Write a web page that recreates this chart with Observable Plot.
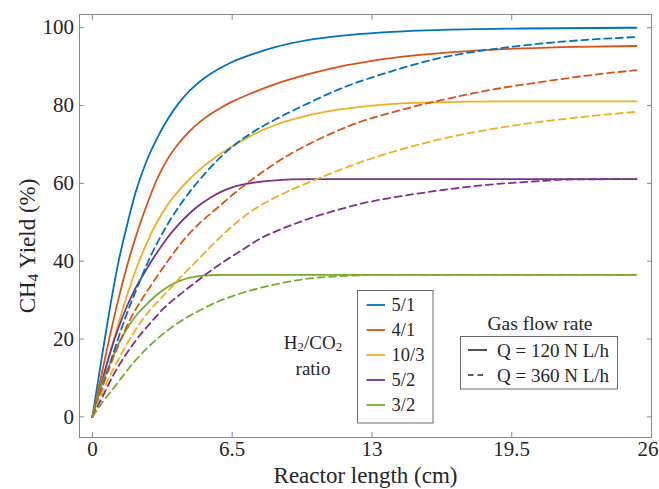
<!DOCTYPE html>
<html>
<head>
<meta charset="utf-8">
<script src="https://cdn.jsdelivr.net/npm/d3@7"></script>
<script src="https://cdn.jsdelivr.net/npm/@observablehq/plot@0.6"></script>
<style>
  html, body { margin: 0; padding: 0; background: #ffffff; }
  #chart { width: 659px; height: 489px; overflow: hidden; }
</style>
</head>
<body>
<div id="chart"></div>
<script>
// ---- categories / labels ----
const ratios = ["5/1", "4/1", "10/3", "5/2", "3/2"];
const ratioColors = ["#0072BD", "#D95319", "#EDB120", "#7E2F8E", "#77AC30"];
const flowRates = ["Q = 120 N L/h", "Q = 360 N L/h"];
const xTicks = [0, 6.5, 13, 19.5, 26];
const xTickLabels = ["0", "6.5", "13", "19.5", "26"];
const yTicks = [0, 20, 40, 60, 80, 100];
const xTitle = "Reactor length (cm)";
const yTitleParts = ["CH", "4", " Yield (%)"];
const ratioTitleParts = ["H", "2", "/CO", "2"];
const ratioTitle2 = "ratio";
const flowTitle = "Gas flow rate";

// ---- series: [reactor length (cm), CH4 yield (%)] ----
// Q = 120 N L/h (solid)
const q120_51 = [[0,0],[0.4,14],[0.8,27.5],[1.2,39.5],[1.6,49],[2,57.5],[2.5,65.5],[3,71.5],[3.5,76.5],[4,80.5],[4.5,83.7],[5,86.2],[5.5,88.2],[6,89.8],[6.5,91.2],[7.5,93.3],[8.5,95],[10,96.8],[11.5,97.9],[13.5,98.8],[16,99.4],[20,99.8],[25.3,100]];
const q120_41 = [[0,0],[0.4,10.2],[0.8,20.5],[1.2,30],[1.6,38.5],[2,46],[2.5,54],[3,61],[3.5,66.3],[4,70.2],[4.5,73.3],[5,75.8],[5.5,77.8],[6,79.5],[6.5,81],[7.5,83.4],[8.5,85.5],[10,88],[11.5,90],[13,91.5],[15,92.9],[17.5,94],[20,94.7],[22.5,95.1],[25.3,95.3]];
const q120_103 = [[0,0],[0.4,8],[0.8,16],[1.2,23.8],[1.6,31],[2,37.5],[2.5,44.3],[3,50],[3.5,54.5],[4,58],[4.5,61],[5,63.6],[5.5,65.8],[6,67.8],[6.5,69.5],[7.5,72.6],[8.5,75],[10,77.4],[11.5,79],[13,80],[15,80.7],[17.5,81],[20,81.1],[25.3,81.1]];
const q120_52 = [[0,0],[0.4,8.2],[0.8,16],[1.2,22.7],[1.6,28.3],[2,33],[2.5,37.8],[3,42.2],[3.5,46.1],[4,49.4],[4.5,52.2],[5,54.5],[5.5,56.4],[6,57.9],[6.5,59],[7.5,60.2],[8.5,60.8],[10,61.1],[25.3,61.1]];
const q120_32 = [[0,0],[0.4,7.8],[0.8,13.4],[1.2,18.6],[1.6,22.6],[2,25.8],[2.5,28.8],[3,31.4],[3.5,33.4],[4,34.8],[4.5,35.7],[5,36.2],[5.5,36.4],[6,36.5],[25.3,36.5]];
// Q = 360 N L/h (dashed)
const q360_51 = [[0,0],[0.5,8.5],[0.97,16.3],[1.5,25],[2.14,34],[2.69,41.1],[3.5,49.5],[4.24,55.7],[5.2,62.3],[6.2,68],[7.3,72.6],[8.5,76.4],[10,80.5],[11.3,83.8],[13.9,88.8],[16.3,92.4],[18.5,94.4],[20.8,95.9],[23,96.9],[25.3,97.6]];
const q360_41 = [[0,0],[0.5,8.2],[1.05,16.3],[1.8,25.5],[2.68,33.4],[3.5,40],[4.24,45.4],[4.9,49.3],[5.79,53.6],[6.5,57],[7.33,60.6],[8.3,64.4],[9.19,67.5],[10,69.9],[11.3,73.3],[12.5,75.9],[13.9,78.2],[16.3,81.5],[18.5,84],[20.8,86],[23,87.7],[25.3,89.1]];
const q360_103 = [[0,0],[0.6,8],[1.36,16.3],[2.4,25.5],[3.31,31.2],[3.68,33.4],[5.01,41],[6.2,47.5],[7.3,52.5],[8.88,57.4],[10.4,61],[11.3,63],[12.5,65.5],[13.9,68],[16.3,71.5],[18.5,73.9],[20.8,75.8],[23,77.2],[25.3,78.4]];
const q360_52 = [[0,0],[0.5,5.5],[1,11],[1.5,15.5],[2,19.5],[2.6,23.5],[3.3,27.8],[4.2,32],[5.2,36.3],[6,39.5],[7,43],[7.8,45.8],[8.5,47.6],[9.5,49.8],[10.6,51.9],[11.3,53],[12.5,54.8],[13.9,56.3],[16.3,58.3],[18.5,59.7],[20.8,60.6],[22,61],[25.3,61.1]];
const q360_32 = [[0,0],[0.5,4],[1,7.5],[2,14.5],[3,20],[4,24.2],[5,27.4],[6,30],[7,31.9],[8,33.4],[9,34.6],[10,35.5],[11,36],[12,36.3],[13.5,36.5],[25.3,36.5]];

const q120Series = [q120_51, q120_41, q120_103, q120_52, q120_32];
const q360Series = [q360_51, q360_41, q360_103, q360_52, q360_32];

// table built from the arrays above
const rows = [];
[q120Series, q360Series].forEach((group, gi) => {
  group.forEach((pts, ri) => {
    pts.forEach(([x, y]) => rows.push({x, y, ratio: ratios[ri], flow: flowRates[gi], series: ratios[ri] + "|" + flowRates[gi]}));
  });
});

const frameGray = "#8a8a8a";
const textColor = "#262626";
const serif = "'Liberation Serif', 'DejaVu Serif', serif";
const lastTick = xTicks[xTicks.length - 1];

const chart = Plot.plot({
  width: 659,
  height: 489,
  marginLeft: 79,
  marginRight: 8,
  marginTop: 14,
  marginBottom: 52,
  style: {fontFamily: serif, fontSize: "21px", color: textColor, background: "#ffffff"},
  x: {domain: [-0.6, 26]},
  y: {domain: [-5.3, 103.4]},
  color: {domain: ratios, range: ratioColors},
  marks: [
    Plot.frame({stroke: frameGray, strokeWidth: 1}),
    // ticks (inward) on all four sides
    Plot.axisX({anchor: "bottom", ticks: xTicks, tickFormat: () => "", tickSize: -5, label: null, stroke: frameGray}),
    Plot.axisX({anchor: "top", ticks: xTicks, tickFormat: () => "", tickSize: -5, label: null, stroke: frameGray}),
    Plot.axisY({anchor: "left", ticks: yTicks, tickSize: -5, tickPadding: 10.5, label: null, stroke: frameGray, fill: textColor}),
    Plot.axisY({anchor: "right", ticks: yTicks, tickFormat: () => "", tickSize: -5, label: null, stroke: frameGray}),
    // x tick labels
    Plot.axisX({anchor: "bottom", ticks: xTicks.filter(t => t !== lastTick), tickFormat: d => xTickLabels[xTicks.indexOf(d)], tickSize: 0, tickPadding: 4, label: null, fill: textColor}),
    Plot.axisX({anchor: "bottom", ticks: [lastTick], tickFormat: d => xTickLabels[xTicks.indexOf(d)], tickSize: 0, tickPadding: 4, textAnchor: "end", dx: 7, label: null, fill: textColor}),
    Plot.line(rows.filter(d => d.flow === flowRates[0]), {x: "x", y: "y", z: "series", stroke: "ratio", strokeWidth: 1.8, curve: "monotone-x"}),
    Plot.line(rows.filter(d => d.flow === flowRates[1]), {x: "x", y: "y", z: "series", stroke: "ratio", strokeWidth: 1.8, strokeDasharray: "7,4.5", curve: "monotone-x"}),
    Plot.text([xTitle], {frameAnchor: "bottom", dy: 38, lineAnchor: "middle", fontSize: 23, fill: textColor})
  ]
});
document.getElementById("chart").appendChild(chart);

// ---- titles and legends drawn into the same SVG ----
const svg = d3.select(chart.tagName.toLowerCase() === "svg" ? chart : chart.querySelector("svg"));
const g = svg.append("g").attr("font-family", serif).attr("fill", textColor).attr("text-anchor", "start");

function subText(parent, parts, attrs, size) {
  const t = parent.append("text");
  Object.entries(attrs).forEach(([k, v]) => t.attr(k, v));
  t.attr("font-size", size);
  parts.forEach((p, i) => {
    const isSub = /^\d+$/.test(p);
    const ts = t.append("tspan").text(p);
    if (isSub) ts.attr("font-size", size * 0.68).attr("dy", size * 0.22);
    else if (i > 0 && /^\d+$/.test(parts[i - 1])) ts.attr("dy", -size * 0.22);
  });
  return t;
}

// y axis title
subText(g, yTitleParts, {transform: "translate(27,246) rotate(-90)", "text-anchor": "middle", "dominant-baseline": "central"}, 23);

// ratio legend
subText(g, ratioTitleParts, {x: 313, y: 342, "text-anchor": "middle", "dominant-baseline": "central"}, 19);
g.append("text").attr("x", 313).attr("y", 368).attr("text-anchor", "middle").attr("dominant-baseline", "central").attr("font-size", 19).text(ratioTitle2);

const lg1 = g.append("g");
lg1.append("rect").attr("x", 357.5).attr("y", 290.5).attr("width", 75.5).attr("height", 132.5).attr("fill", "#ffffff").attr("stroke", "#6b6b6b").attr("stroke-width", 1);
ratios.forEach((r, i) => {
  const yy = 305 + i * 25;
  lg1.append("line").attr("x1", 366.5).attr("x2", 385).attr("y1", yy).attr("y2", yy).attr("stroke", ratioColors[i]).attr("stroke-width", 1.8);
  lg1.append("text").attr("x", 391.5).attr("y", yy).attr("text-anchor", "start").attr("dominant-baseline", "central").attr("font-size", 18.5).text(r);
});

// flow legend
g.append("text").attr("x", 540).attr("y", 323).attr("text-anchor", "middle").attr("dominant-baseline", "central").attr("font-size", 19.5).text(flowTitle);
const lg2 = g.append("g");
lg2.append("rect").attr("x", 460.5).attr("y", 336.5).attr("width", 157).attr("height", 52.5).attr("fill", "#ffffff").attr("stroke", "#6b6b6b").attr("stroke-width", 1);
flowRates.forEach((f, i) => {
  const yy = 350 + i * 25;
  lg2.append("line").attr("x1", 468).attr("x2", 487).attr("y1", yy).attr("y2", yy).attr("stroke", textColor).attr("stroke-width", 1.6).attr("stroke-dasharray", i === 1 ? "5.5,4" : null);
  lg2.append("text").attr("x", 497).attr("y", yy).attr("text-anchor", "start").attr("dominant-baseline", "central").attr("font-size", 19).text(f);
});
</script>
</body>
</html>
